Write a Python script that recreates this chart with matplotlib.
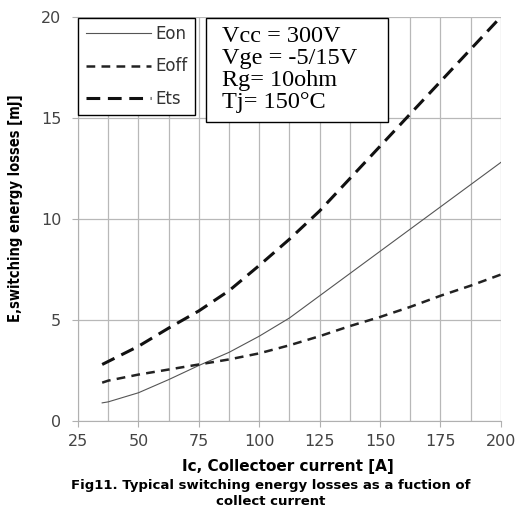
import matplotlib.pyplot as plt
import numpy as np
from matplotlib.patches import Rectangle

# collector current [A]
ic = [35, 37.5, 50, 62.5, 75, 87.5, 100, 112.5, 125, 137.5, 150, 162.5, 175, 187.5, 200]
e_on = [0.9, 0.95, 1.4, 2.05, 2.75, 3.4, 4.2, 5.1, 6.2, 7.3, 8.4, 9.5, 10.6, 11.7, 12.8]
e_off = [1.9, 2.0, 2.3, 2.55, 2.8, 3.05, 3.35, 3.75, 4.2, 4.7, 5.15, 5.65, 6.2, 6.7, 7.25]
e_ts = [2.8, 2.95, 3.7, 4.6, 5.45, 6.45, 7.7, 9.0, 10.4, 12.0, 13.6, 15.2, 16.8, 18.4, 20.0]

conditions = "Vcc = 300V\nVge = -5/15V\nRg= 10ohm\nTj= 150°C"

fig = plt.figure(figsize=(5.18, 5.11), dpi=100)
ax = fig.add_axes([0.1506, 0.176, 0.8164, 0.791])

ax.plot(ic, e_on, color='#555555', lw=0.8, label='Eon')
ax.plot(ic, e_off, color='#222222', lw=1.8, dashes=(3.5, 2.5), label='Eoff')
ax.plot(ic, e_ts, color='#111111', lw=2.2, dashes=(4.5, 2.5), label='Ets')

ax.set_xlim(25, 200)
ax.set_ylim(0, 20)
ax.set_xticks(np.arange(25, 201, 25))
ax.set_xticks(np.arange(25, 201, 12.5), minor=True)
ax.set_yticks([0, 5, 10, 15, 20])
ax.grid(which='both', axis='x', color='#b8b8b8', lw=0.9)
ax.grid(which='major', axis='y', color='#b8b8b8', lw=0.9)
ax.set_axisbelow(True)
for s in ['top', 'right']:
    ax.spines[s].set_visible(False)
for s in ['left', 'bottom']:
    ax.spines[s].set_color('#b0b0b0')
ax.tick_params(which='major', length=4, color='#b0b0b0', labelsize=11.5,
               labelcolor='#444444')
ax.tick_params(which='minor', length=0)
ax.tick_params(axis='x', pad=5)
ax.tick_params(axis='y', pad=8)

leg = ax.legend(loc='upper left', bbox_to_anchor=(0.0, 0.998), fontsize=12,
                frameon=True, fancybox=False, edgecolor='black', framealpha=1,
                handlelength=3.9, borderpad=0.45,
                labelspacing=0.85, handletextpad=0.3, borderaxespad=0.0)
leg.get_frame().set_linewidth(1.0)
for t in leg.get_texts():
    t.set_color('#333333')

# condition box
ax.add_patch(Rectangle((0.3026, 0.740), 0.4306, 0.2575, transform=ax.transAxes,
                       fc='white', ec='black', lw=1.0, zorder=5))
ax.text(0.340, 0.977, conditions, transform=ax.transAxes, va='top', ha='left',
        family='Liberation Serif', fontsize=17.5, linespacing=1.06, zorder=6)

ax.set_ylabel('E,switching energy losses [mJ]', fontsize=10.5, fontweight='bold',
              fontstretch='condensed')
ax.yaxis.set_label_coords(-0.13, 0.527)
ax.set_xlabel('Ic, Collectoer current [A]', fontsize=11, fontweight='bold')
ax.xaxis.set_label_coords(0.496, -0.094)
fig.text(0.523, 0.034, 'Fig11. Typical switching energy losses as a fuction of\ncollect current',
         ha='center', va='center', fontsize=9.5, fontweight='bold', linespacing=1.3)

fig.savefig('out.png', dpi=100)
